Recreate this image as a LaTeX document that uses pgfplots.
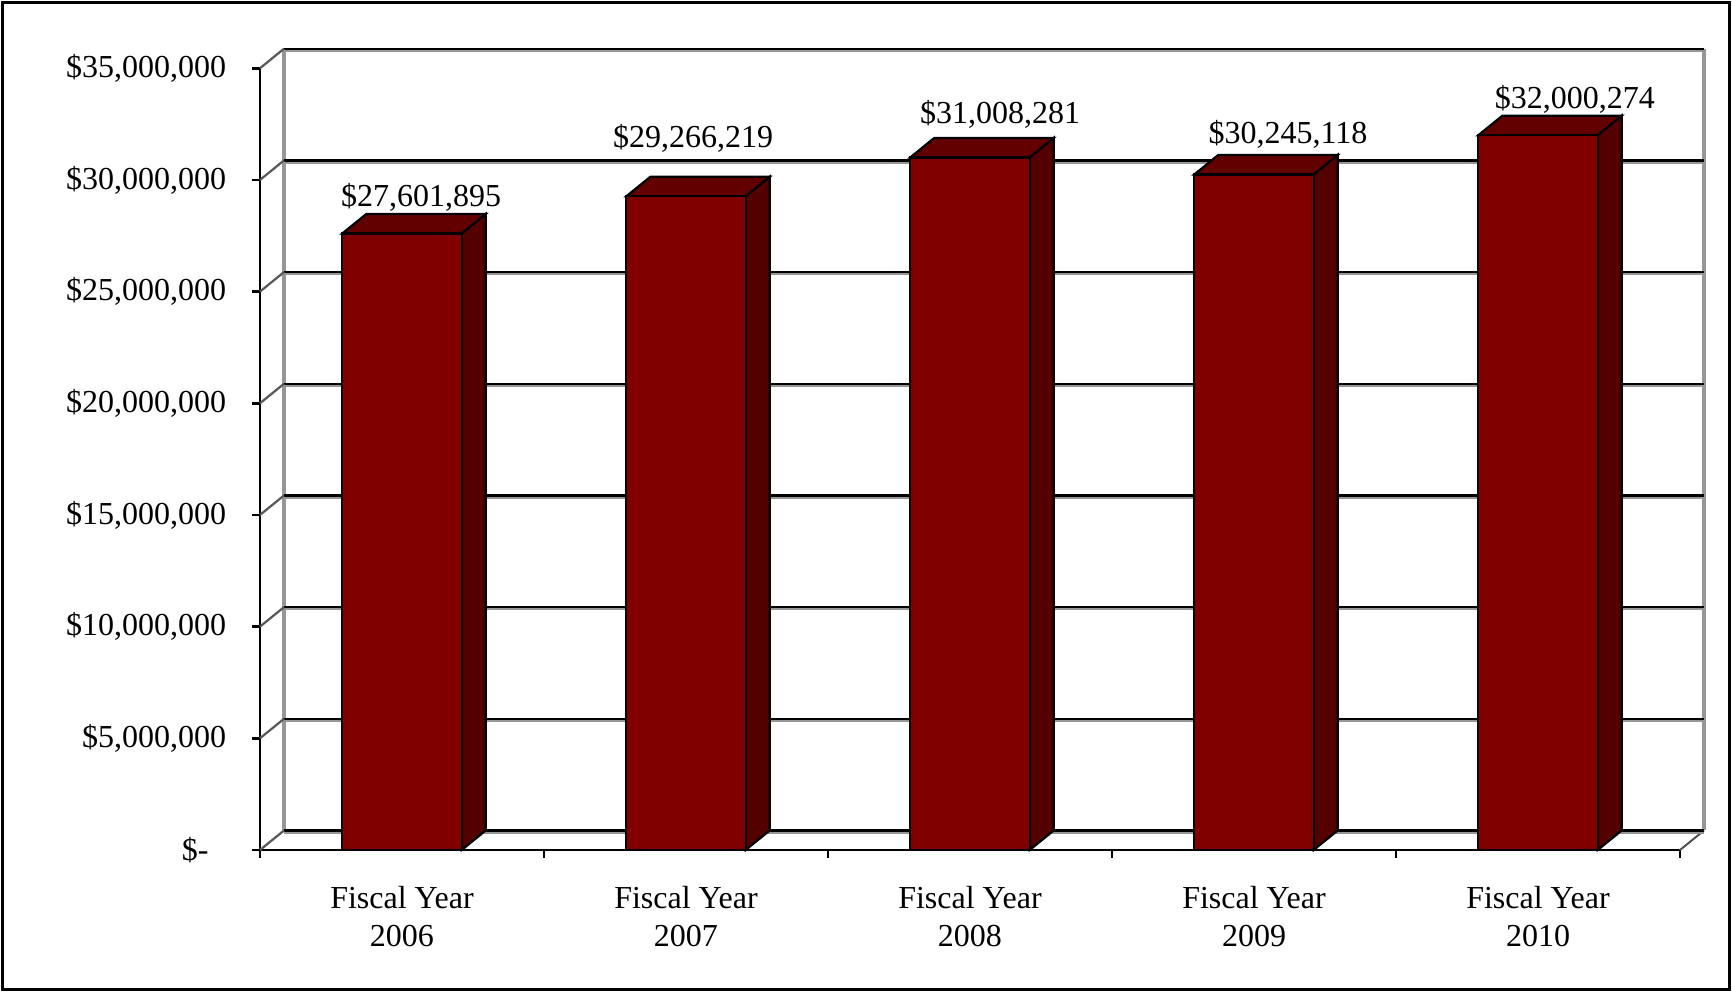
\documentclass[border=0pt]{standalone}
\usepackage{pgfplots}
\pgfplotsset{compat=1.18}
\usepackage{pgfplotstable}
\usepackage{fontspec}
\setmainfont{Liberation Serif}

\definecolor{barfront}{RGB}{128,0,0}
\definecolor{barside}{RGB}{85,0,0}
\definecolor{bartop}{RGB}{98,0,0}
\definecolor{wallgray}{RGB}{150,150,150}

% funding per fiscal year, in millions of dollars
\pgfplotstableread{
x v
0.5 27.601895
1.5 29.266219
2.5 31.008281
3.5 30.245118
4.5 32.000274
}\bars

% where the value labels sit (centre x, baseline y)
\pgfplotstableread{
lx ly lab
0.567 28.80 27,601,895
1.525 31.43 29,266,219
2.606 32.51 31,008,281
3.620 31.61 30,245,118
4.630 33.21 32,000,274
}\labels

% depth of the 3d effect in axis units, and half bar width
\def\dx{0.0845}
\def\dy{0.873}
\def\hw{0.21}

\begin{document}
\begin{tikzpicture}
\begin{axis}[
    at={(0,0)}, anchor=south west,
    scale only axis,
    width=443.75pt, height=244.3pt,
    xmin=0, xmax=5, ymin=0, ymax=35,
    clip=false,
    axis x line*=bottom, axis y line*=left,
    x axis line style={line width=0.9pt},
    y axis line style={line width=0.6pt},
    tick align=outside,
    major tick length=2.4pt,
    tick style={black, line width=0.8pt},
    xtick={0,1,2,3,4,5},
    xticklabels={},
    extra x ticks={0.5,1.5,2.5,3.5,4.5},
    extra x tick labels={{Fiscal Year\\2006},{Fiscal Year\\2007},{Fiscal Year\\2008},{Fiscal Year\\2009},{Fiscal Year\\2010}},
    extra x tick style={major tick length=0pt},
    xticklabel style={align=center, anchor=north, inner sep=0pt, yshift=-11pt},
    ytick={0,5,...,35},
    yticklabels={{\$-\kern5.5pt},{\$5,000,000},{\$10,000,000},{\$15,000,000},{\$20,000,000},{\$25,000,000},{\$30,000,000},{\$35,000,000}},
    yticklabel style={anchor=east, inner sep=0pt, xshift=-8.0pt},
]

% back wall: grey edges
\edef\temp{%
  \noexpand\addplot[wallgray, line width=1pt, forget plot] coordinates {(\dx,\dy) (\dx,35.873)};
  \noexpand\addplot[wallgray, line width=1pt, forget plot] coordinates {(5.0845,\dy) (5.0845,35.873)};
  \noexpand\addplot[black!70, line width=0.6pt, forget plot] coordinates {(5,0) (5.0845,\dy)};
}\temp

% gridlines on the back wall and the short diagonals on the side wall
\pgfplotsinvokeforeach{0,5,...,35}{
  \pgfmathsetmacro\gy{#1+\dy}
  \pgfmathsetmacro\gx{5+\dx}
  \edef\temp{%
    \noexpand\addplot[wallgray, line width=0.9pt, yshift=-0.6pt, forget plot] coordinates {(\dx,\gy) (\gx,\gy)};
    \noexpand\addplot[black, line width=0.7pt, forget plot] coordinates {(\dx,\gy) (\gx,\gy)};
    \noexpand\addplot[black!65, line width=0.7pt, forget plot] coordinates {(0,#1) (\dx,\gy)};
  }\temp
}

% bars: front, side and top faces
\pgfplotsinvokeforeach{0,...,4}{
  \pgfplotstablegetelem{#1}{x}\of\bars \let\bx\pgfplotsretval
  \pgfplotstablegetelem{#1}{v}\of\bars \let\bv\pgfplotsretval
  \pgfmathsetmacro\xl{\bx-\hw}
  \pgfmathsetmacro\xr{\bx+\hw}
  \pgfmathsetmacro\xlb{\bx-\hw+\dx}
  \pgfmathsetmacro\xrb{\bx+\hw+\dx}
  \pgfmathsetmacro\vb{\bv+\dy}
  \edef\temp{%
    \noexpand\addplot[fill=barside, draw=black, line width=0.7pt, forget plot]
      coordinates {(\xr,0) (\xrb,\dy) (\xrb,\vb) (\xr,\bv)} -- cycle;
    \noexpand\addplot[fill=bartop, draw=black, line width=0.7pt, forget plot]
      coordinates {(\xl,\bv) (\xr,\bv) (\xrb,\vb) (\xlb,\vb)} -- cycle;
    \noexpand\addplot[fill=barfront, draw=black, line width=0.7pt, forget plot]
      coordinates {(\xl,0) (\xr,0) (\xr,\bv) (\xl,\bv)} -- cycle;
  }\temp
}

% value labels
\addplot[draw=none, forget plot,
    point meta=explicit symbolic,
    nodes near coords={\$\pgfplotspointmeta},
    every node near coord/.style={anchor=base, inner sep=0pt, text=black}]
    table[x=lx, y=ly, meta=lab] {\labels};

\end{axis}
\pgfresetboundingbox
\useasboundingbox (-81.25pt,-44.375pt) rectangle (460pt,265.625pt);
\draw[line width=1pt] (-80.45pt,-43.575pt) rectangle (459.2pt,264.825pt);
\end{tikzpicture}
\end{document}
